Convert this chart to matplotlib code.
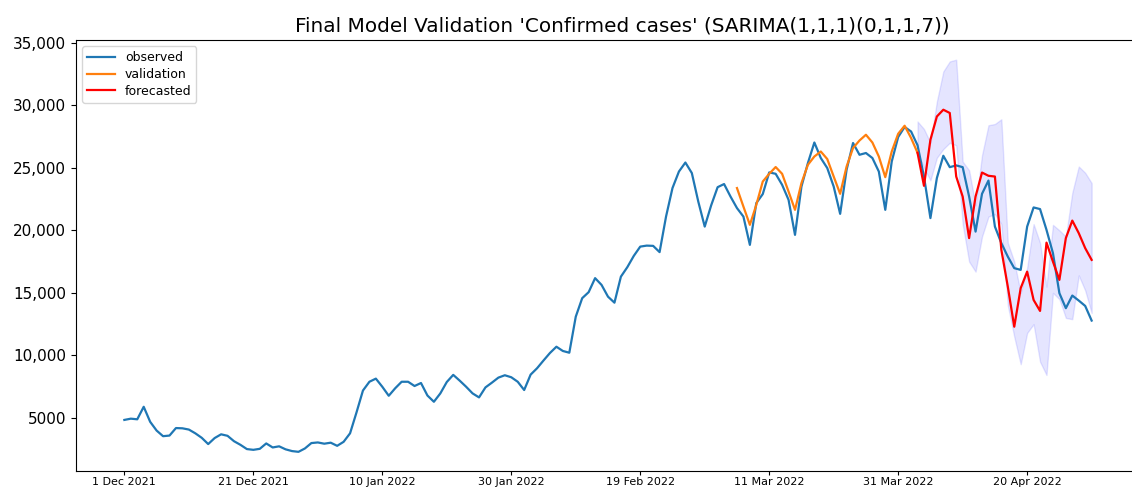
import numpy as np
import pandas as pd
import matplotlib
matplotlib.use("Agg")
import matplotlib.pyplot as plt
import matplotlib.dates as mdates
from matplotlib.ticker import FuncFormatter

# daily confirmed cases, 1 Dec 2021 .. 30 Apr 2022
observed = [
    4850, 4950, 4900, 5900, 4700, 4000, 3550, 3600, 4200, 4180,
    4080, 3780, 3420, 2920, 3400, 3700, 3580, 3150, 2860, 2520,
    2460, 2540, 2970, 2650, 2740, 2500, 2360, 2300, 2570, 3000,
    3050, 2950, 3030, 2780, 3100, 3780, 5450, 7200, 7900, 8150,
    7500, 6780, 7380, 7900, 7900, 7560, 7800, 6800, 6300, 6970,
    7880, 8450, 7990, 7500, 6970, 6650, 7450, 7830, 8230, 8420,
    8260, 7900, 7240, 8470, 8980, 9600, 10200, 10700, 10360, 10220,
    13100, 14580, 15060, 16180, 15640, 14700, 14220, 16300, 17060, 17960,
    18700, 18780, 18760, 18260, 21100, 23380, 24700, 25420, 24580, 22300,
    20300, 22000, 23450, 23700, 22700, 21780, 21100, 18840, 22180, 22900,
    24630, 24520, 23640, 22440, 19640, 23500, 25380, 27020, 25780, 24980,
    23500, 21320, 24840, 26980, 26040, 26180, 25780, 24700, 21640, 25500,
    27460, 28260, 27900, 26800, 24300, 20980, 24180, 25960, 25050, 25190,
    25050, 22700, 19900, 22920, 23980, 20300, 18980, 17900, 16980, 16840,
    20300, 21830, 21700, 20040, 18180, 14980, 13780, 14790, 14390, 13960,
    12790,
]
validation = [
    23380, 21900, 20440, 22040, 23900, 24520, 25060, 24520, 23100, 21640,
    23780, 25240, 25900, 26300, 25700, 24300, 22920, 25100, 26580, 27180,
    27640, 27020, 25900, 24250, 26300, 27720, 28360, 27380, 26200,
]
forecast = [
    26200, 23560, 27240, 29100, 29640, 29380, 24300, 22700, 19380, 22700,
    24620, 24360, 24300, 18440, 15500, 12300, 15380, 16700, 14440, 13560,
    19020, 17500, 16040, 19380, 20780, 19780, 18580, 17640,
]
ci_upper = [
    28700, 28100, 27000, 30300, 32700, 33500, 33640, 25500, 24800, 22000,
    26000, 28400, 28500, 28880, 19000, 17500, 15000, 17000, 20500, 19000,
    15500, 20440, 20000, 19500, 23000, 25100, 24600, 23780,
]
ci_lower = [
    26200, 25000, 24000, 25800, 26500, 27000, 26800, 20500, 17500, 16700,
    19500, 21100, 21300, 20500, 14000, 11500, 9300, 11800, 12500, 9500,
    8440, 15000, 14500, 13000, 12900, 16400, 15200, 13400,
]

start = pd.Timestamp("2021-12-01")
dates = pd.date_range(start, periods=len(observed), freq="D")
val_dates = dates[95:95 + len(validation)]
fc_dates = dates[123:123 + len(forecast)]

fig = plt.figure(figsize=(11.32, 4.9), dpi=100)
ax = fig.add_axes([76 / 1132, 19 / 490, 1064 / 1132, 431 / 490])

ax.plot(dates, observed, color="#1f77b4", lw=1.6, label="observed")
ax.plot(val_dates, validation, color="#ff7f0e", lw=1.6, label="validation")
ax.plot(fc_dates, forecast, color="red", lw=1.6, label="forecasted")
ax.fill_between(fc_dates, ci_lower, ci_upper, color="b", alpha=0.1)

ax.set_xlim(start - pd.Timedelta(days=7.5), dates[-1] + pd.Timedelta(days=7.5))
ax.set_ylim(768, 35212)
ax.spines["right"].set_visible(False)

ax.set_xticks(pd.date_range(start, periods=8, freq="20D"))
ax.xaxis.set_major_formatter(mdates.DateFormatter("%-d %b %Y"))
ax.tick_params(axis="x", labelsize=8, length=3, pad=1.5)
ax.tick_params(axis="y", labelsize=11)
ax.yaxis.set_major_formatter(
    FuncFormatter(lambda v, p: f"{int(v)}" if v < 10000 else f"{int(v):,}"))

ax.set_title("Final Model Validation 'Confirmed cases' (SARIMA(1,1,1)(0,1,1,7))",
             fontsize=14.4, x=0.513)
ax.legend(loc="upper left", fontsize=9, labelspacing=0.3, handlelength=2.2)

fig.savefig("out.png", dpi=100)
